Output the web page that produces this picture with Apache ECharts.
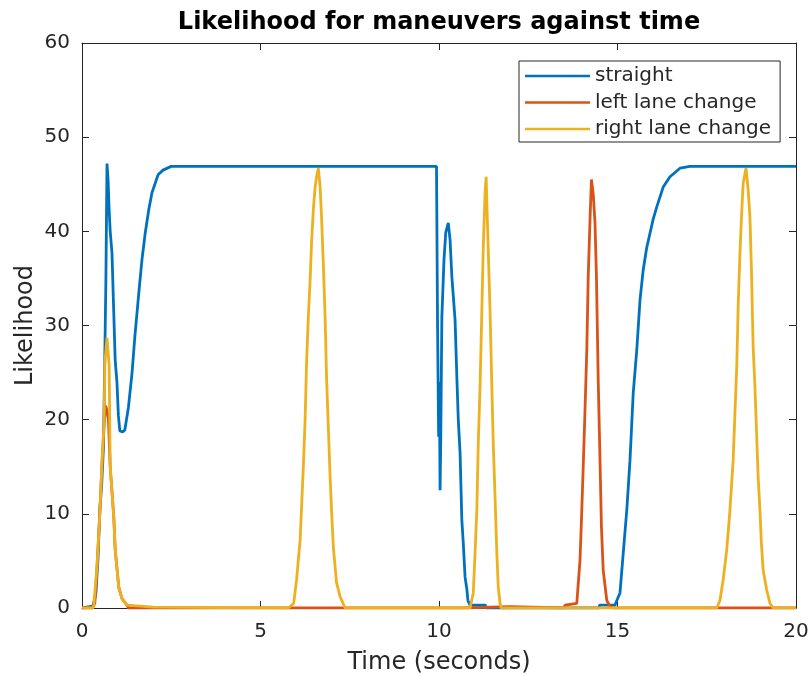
<!DOCTYPE html>
<html>
<head>
<meta charset="utf-8">
<script src="https://cdn.jsdelivr.net/npm/echarts@6/dist/echarts.min.js"></script>
<style>
  html, body { margin: 0; padding: 0; background: #ffffff; }
  #chart { width: 812px; height: 677px; }
</style>
</head>
<body>
<div id="chart"></div>
<script>
// Maneuver likelihood traces (time in seconds, likelihood values)
const seriesNames = ['straight', 'left lane change', 'right lane change'];
const seriesColors = ['#0072BD', '#D95319', '#EDB120'];
const xTicks = [0, 5, 10, 15, 20];
const yTicks = [0, 10, 20, 30, 40, 50, 60];

const straightTime = [0, 0.3, 0.36, 0.39, 0.45, 0.5, 0.55, 0.6, 0.62, 0.65, 0.67, 0.70, 0.73, 0.76, 0.79, 0.84, 0.89, 0.93, 0.98, 1.02, 1.06, 1.09, 1.14, 1.2, 1.3, 1.4, 1.48, 1.59, 1.68, 1.77, 1.87, 1.96, 2.05, 2.13, 2.27, 2.5,
  9.93, 9.94, 9.96, 9.99, 10.01, 10.03, 10.05, 10.08, 10.14, 10.19, 10.26, 10.31, 10.36, 10.45, 10.5, 10.54, 10.59, 10.64, 10.68, 10.73, 10.78, 10.81, 10.87, 11.3, 11.32,
  14.48, 14.5, 14.93, 14.98, 15.07, 15.16, 15.26, 15.35, 15.44, 15.54, 15.63, 15.72, 15.82, 15.91, 16.0, 16.1, 16.28, 16.47, 16.75, 17.03, 20];
const straightValues = [0, 0.2, 1, 1.6, 5.4, 10.5, 13, 17, 22, 29.7, 35, 47.2, 45.5, 42.3, 40, 37.7, 31.3, 26.3, 23.9, 20.4, 18.8, 18.6, 18.7, 18.9, 21.3, 24.9, 28.8, 33.4, 37, 39.8, 42.3, 44.1, 45.1, 46, 46.5, 46.9,
  46.9, 41.2, 29.8, 18.2, 24, 12.5, 18.2, 30.9, 37, 39.9, 40.9, 39.1, 35.2, 30.6, 24.5, 20, 16.5, 9.3, 6.9, 3.3, 2, 0.8, 0.3, 0.3, 0,
  0, 0.3, 0.3, 0.8, 1.6, 5.8, 10.4, 15.7, 22.8, 27.4, 32.7, 35.9, 38.3, 39.8, 41.3, 42.6, 44.7, 45.8, 46.7, 46.9, 46.9];

const leftTime = [0, 0.3, 0.36, 0.42, 0.49, 0.56, 0.62, 0.66, 0.7, 0.74, 0.79, 0.89, 0.93, 1.03, 1.12, 1.26, 1.3,
  10.6, 10.62, 12.0, 12.02, 13.5, 13.53, 13.86, 13.95, 13.99, 14.04, 14.09, 14.14, 14.18, 14.23, 14.27, 14.32, 14.37, 14.41, 14.46, 14.51, 14.55, 14.6, 14.7, 14.8, 14.9, 20];
const leftValues = [0, 0, 0.5, 4.4, 9.3, 15.4, 19.5, 21.5, 21, 20, 15, 9.7, 6.2, 2.2, 1.0, 0.3, 0,
  0, 0.15, 0.15, 0, 0, 0.3, 0.5, 5.1, 9.3, 15, 21, 27.4, 35.2, 41.2, 45.5, 44, 40.9, 35.2, 24.2, 15.7, 8.6, 4, 0.8, 0.1, 0, 0];

const rightTime = [0, 0.3, 0.33, 0.42, 0.49, 0.56, 0.62, 0.64, 0.70, 0.76, 0.79, 0.89, 0.93, 1.03, 1.12, 1.26, 1.3, 2.0, 2.02,
  5.78, 5.93, 6.01, 6.11, 6.15, 6.2, 6.25, 6.29, 6.34, 6.39, 6.43, 6.48, 6.53, 6.57, 6.62, 6.67, 6.71, 6.76, 6.81, 6.85, 6.9, 6.95, 6.99, 7.04, 7.13, 7.23, 7.37,
  10.87, 10.96, 11.01, 11.06, 11.1, 11.15, 11.2, 11.24, 11.29, 11.32, 11.36, 11.43, 11.48, 11.52, 11.57, 11.62, 11.66, 11.71, 11.74,
  17.78, 17.87, 17.96, 18.06, 18.15, 18.24, 18.29, 18.34, 18.38, 18.43, 18.48, 18.52, 18.6, 18.66, 18.71, 18.75, 18.8, 18.85, 18.89, 18.94, 18.99, 19.03, 19.08, 19.18, 19.27, 19.36, 20];
const rightValues = [0, 0, 0.3, 4.4, 9.3, 15.4, 20, 26, 28.7, 25.8, 15, 9.7, 6.2, 2.2, 1.0, 0.3, 0.1, 0.1, 0,
  0, 0.5, 3, 7.2, 10.7, 15, 20, 26, 30.9, 34.8, 38.8, 42.3, 44.7, 45.8, 46.7, 44.7, 41.5, 36.6, 30.9, 24.5, 19.2, 13.9, 10.4, 6.5, 2.7, 1.2, 0,
  0, 1.6, 5.8, 10.4, 17.5, 23.5, 31.6, 38.3, 44, 45.8, 40.5, 31.6, 23.5, 17.5, 11.8, 5.8, 2.2, 0.5, 0,
  0, 0.8, 3, 6.2, 10.4, 15.7, 20.7, 25.6, 32, 37.7, 42.1, 45.1, 46.7, 44.4, 41.5, 36.2, 27.7, 23.5, 19.2, 13.9, 10.4, 6.9, 4, 1.9, 0.5, 0, 0];

const zip = (ts, vs) => ts.map((t, i) => [t, vs[i]]);
const traces = [zip(straightTime, straightValues), zip(leftTime, leftValues), zip(rightTime, rightValues)];

const FONT = 'DejaVu Sans';
const INK = '#262626';

const chart = echarts.init(document.getElementById('chart'), null, { renderer: 'canvas' });

const baseAxis = {
  type: 'value',
  axisLine: { show: true, onZero: false, lineStyle: { color: INK, width: 1 } },
  axisTick: { show: true, inside: true, length: 7, lineStyle: { color: INK, width: 1 } },
  splitLine: { show: false }
};

chart.setOption({
  backgroundColor: '#ffffff',
  animation: false,
  title: {
    text: 'Likelihood for maneuvers against time',
    left: 434,
    top: 6,
    textAlign: 'center',
    textStyle: { fontFamily: FONT, fontSize: 24, fontWeight: 'bold', color: '#000000' }
  },
  grid: { left: 82, right: 16, top: 43, bottom: 69, containLabel: false, outerBoundsMode: 'none' },
  legend: {
    data: seriesNames,
    orient: 'vertical',
    left: 519,
    top: 61,
    padding: [5, 9, 3, 6],
    itemGap: 6.5,
    itemWidth: 65,
    itemHeight: 2.5,
    icon: 'rect',
    backgroundColor: '#ffffff',
    borderColor: INK,
    borderWidth: 1,
    borderRadius: 0,
    textStyle: { fontFamily: FONT, fontSize: 20, color: INK, lineHeight: 20 }
  },
  xAxis: [
    Object.assign({}, baseAxis, {
      min: 0, max: 20, interval: 5,
      name: 'Time (seconds)',
      nameLocation: 'middle',
      nameGap: 43,
      nameMoveOverlap: false,
      nameTextStyle: { fontFamily: FONT, fontSize: 24, color: INK },
      axisLabel: { fontFamily: FONT, fontSize: 20, color: INK, margin: 14,
        formatter: v => (xTicks.includes(v) ? String(v) : '') }
    }),
    Object.assign({}, baseAxis, {
      min: 0, max: 20, interval: 5, position: 'top',
      axisLabel: { show: false }
    })
  ],
  yAxis: [
    Object.assign({}, baseAxis, {
      min: 0, max: 60, interval: 10,
      name: 'Likelihood',
      nameLocation: 'middle',
      nameGap: 44,
      nameMoveOverlap: false,
      nameTextStyle: { fontFamily: FONT, fontSize: 24, color: INK },
      axisLabel: { fontFamily: FONT, fontSize: 20, color: INK, margin: 12,
        formatter: v => (yTicks.includes(v) ? String(v) : '') }
    }),
    Object.assign({}, baseAxis, {
      min: 0, max: 60, interval: 10, position: 'right',
      axisLabel: { show: false }
    })
  ],
  series: seriesNames.map((name, i) => ({
    name: name,
    type: 'line',
    data: traces[i],
    xAxisIndex: 0,
    yAxisIndex: 0,
    showSymbol: false,
    symbol: 'none',
    color: seriesColors[i],
    lineStyle: { color: seriesColors[i], width: 2.8 },
    clip: true,
    z: 2 + i
  }))
});
</script>
</body>
</html>
